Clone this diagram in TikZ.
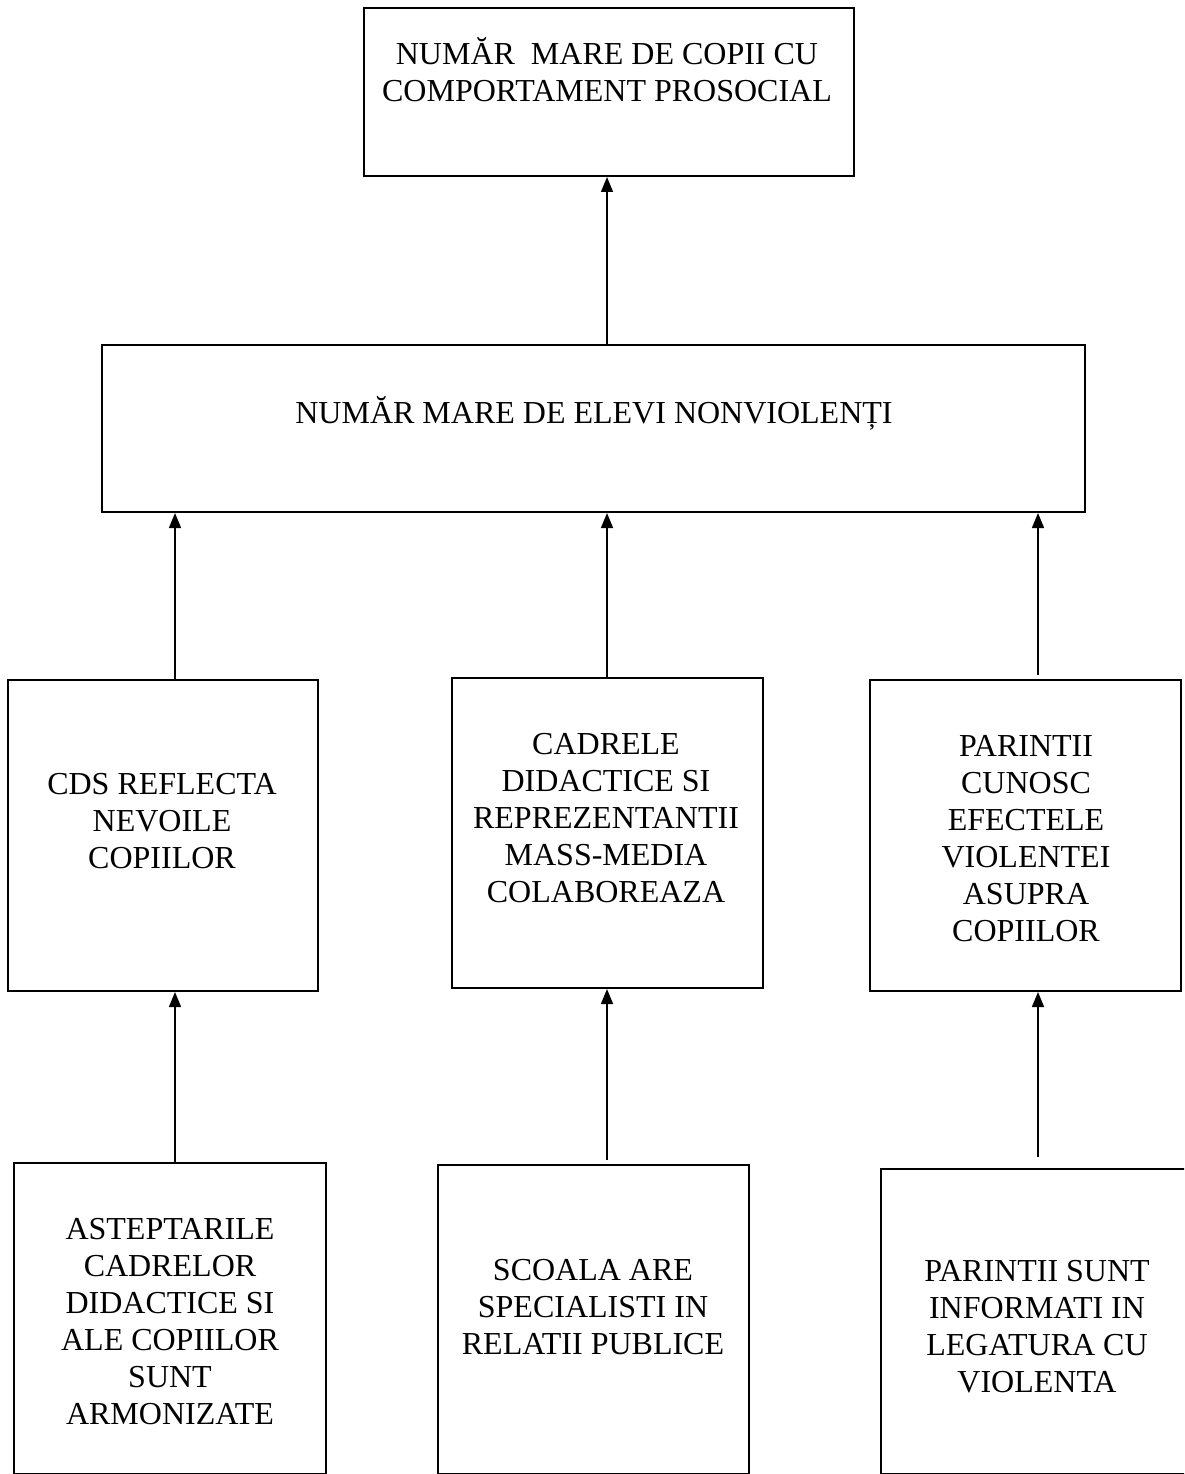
\documentclass[tikz,border=0pt]{standalone}
\usepackage{fontspec}
\setmainfont{Liberation Serif}
\usetikzlibrary{arrows.meta}
\tikzset{
  box/.style={draw, line width=2pt, inner sep=0pt, rectangle},
  lbl/.style={align=center, inner sep=0pt, font=\fontsize{32}{37}\selectfont},
  arr/.style={line width=1.5pt, -{Triangle[length=15pt,width=12pt]}}
}
\begin{document}
\begin{tikzpicture}[x=1pt,y=-1pt]
\useasboundingbox (0,0) rectangle (1184,1474);
\fill[white] (0,0) rectangle (1184,1474);
\clip (0,0) rectangle (1184,1474);
% column x positions for connectors
\coordinate (xL) at (175,0);
\coordinate (xM) at (607,0);
\coordinate (xR) at (1038,0);
% boxes
\node[box, minimum width=490pt, minimum height=168pt] (top) at (609,92) {};
\node[box, minimum width=983pt, minimum height=167pt] (mid) at (593.5,428.5) {};
\node[box, minimum width=310pt, minimum height=311pt] (l3) at (163,835.5) {};
\node[box, minimum width=311pt, minimum height=310pt] (m3) at (607.5,833) {};
\node[box, minimum width=311pt, minimum height=311pt] (r3) at (1025.5,835.5) {};
\node[box, minimum width=312pt, minimum height=311pt] (l4) at (170,1318.5) {};
\node[box, minimum width=311pt, minimum height=309pt] (m4) at (593.5,1319.5) {};
\node[box, minimum width=310pt, minimum height=305pt] (r4) at (1036,1321.5) {};
% texts
\node[lbl] (ttop) at (607,70) {NUMĂR\ \ MARE DE COPII CU\\COMPORTAMENT PROSOCIAL};
\node[lbl] (tmid) at (594,413) {NUMĂR MARE DE ELEVI NONVIOLENȚI};
\node[lbl] (tl3) at (162,821) {CDS REFLECTA\\NEVOILE\\COPIILOR};
\node[lbl] (tm3) at (606,818) {CADRELE\\DIDACTICE SI\\REPREZENTANTII\\MASS-MEDIA\\COLABOREAZA};
\node[lbl] (tr3) at (1026,839) {PARINTII\\CUNOSC\\EFECTELE\\VIOLENTEI\\ASUPRA\\COPIILOR};
\node[lbl] (tl4) at (170,1322) {ASTEPTARILE\\CADRELOR\\DIDACTICE SI\\ALE COPIILOR\\SUNT\\ARMONIZATE};
\node[lbl] (tm4) at (593,1307) {SCOALA ARE\\SPECIALISTI IN\\RELATII PUBLICE};
\node[lbl] (tr4) at (1037,1327) {PARINTII SUNT\\INFORMATI IN\\LEGATURA CU\\VIOLENTA};
% connectors
\draw[arr] (mid.north -| xM) -- (top.south -| xM);
\draw[arr] (l3.north -| xL) -- (mid.south -| xL);
\draw[arr] (m3.north -| xM) -- (mid.south -| xM);
\draw[arr, shorten <=4pt] (r3.north -| xR) -- (mid.south -| xR);
\draw[arr] (l4.north -| xL) -- (l3.south -| xL);
\draw[arr, shorten <=4pt] (m4.north -| xM) -- (m3.south -| xM);
\draw[arr, shorten <=11pt] (r4.north -| xR) -- (r3.south -| xR);
\end{tikzpicture}
\end{document}
